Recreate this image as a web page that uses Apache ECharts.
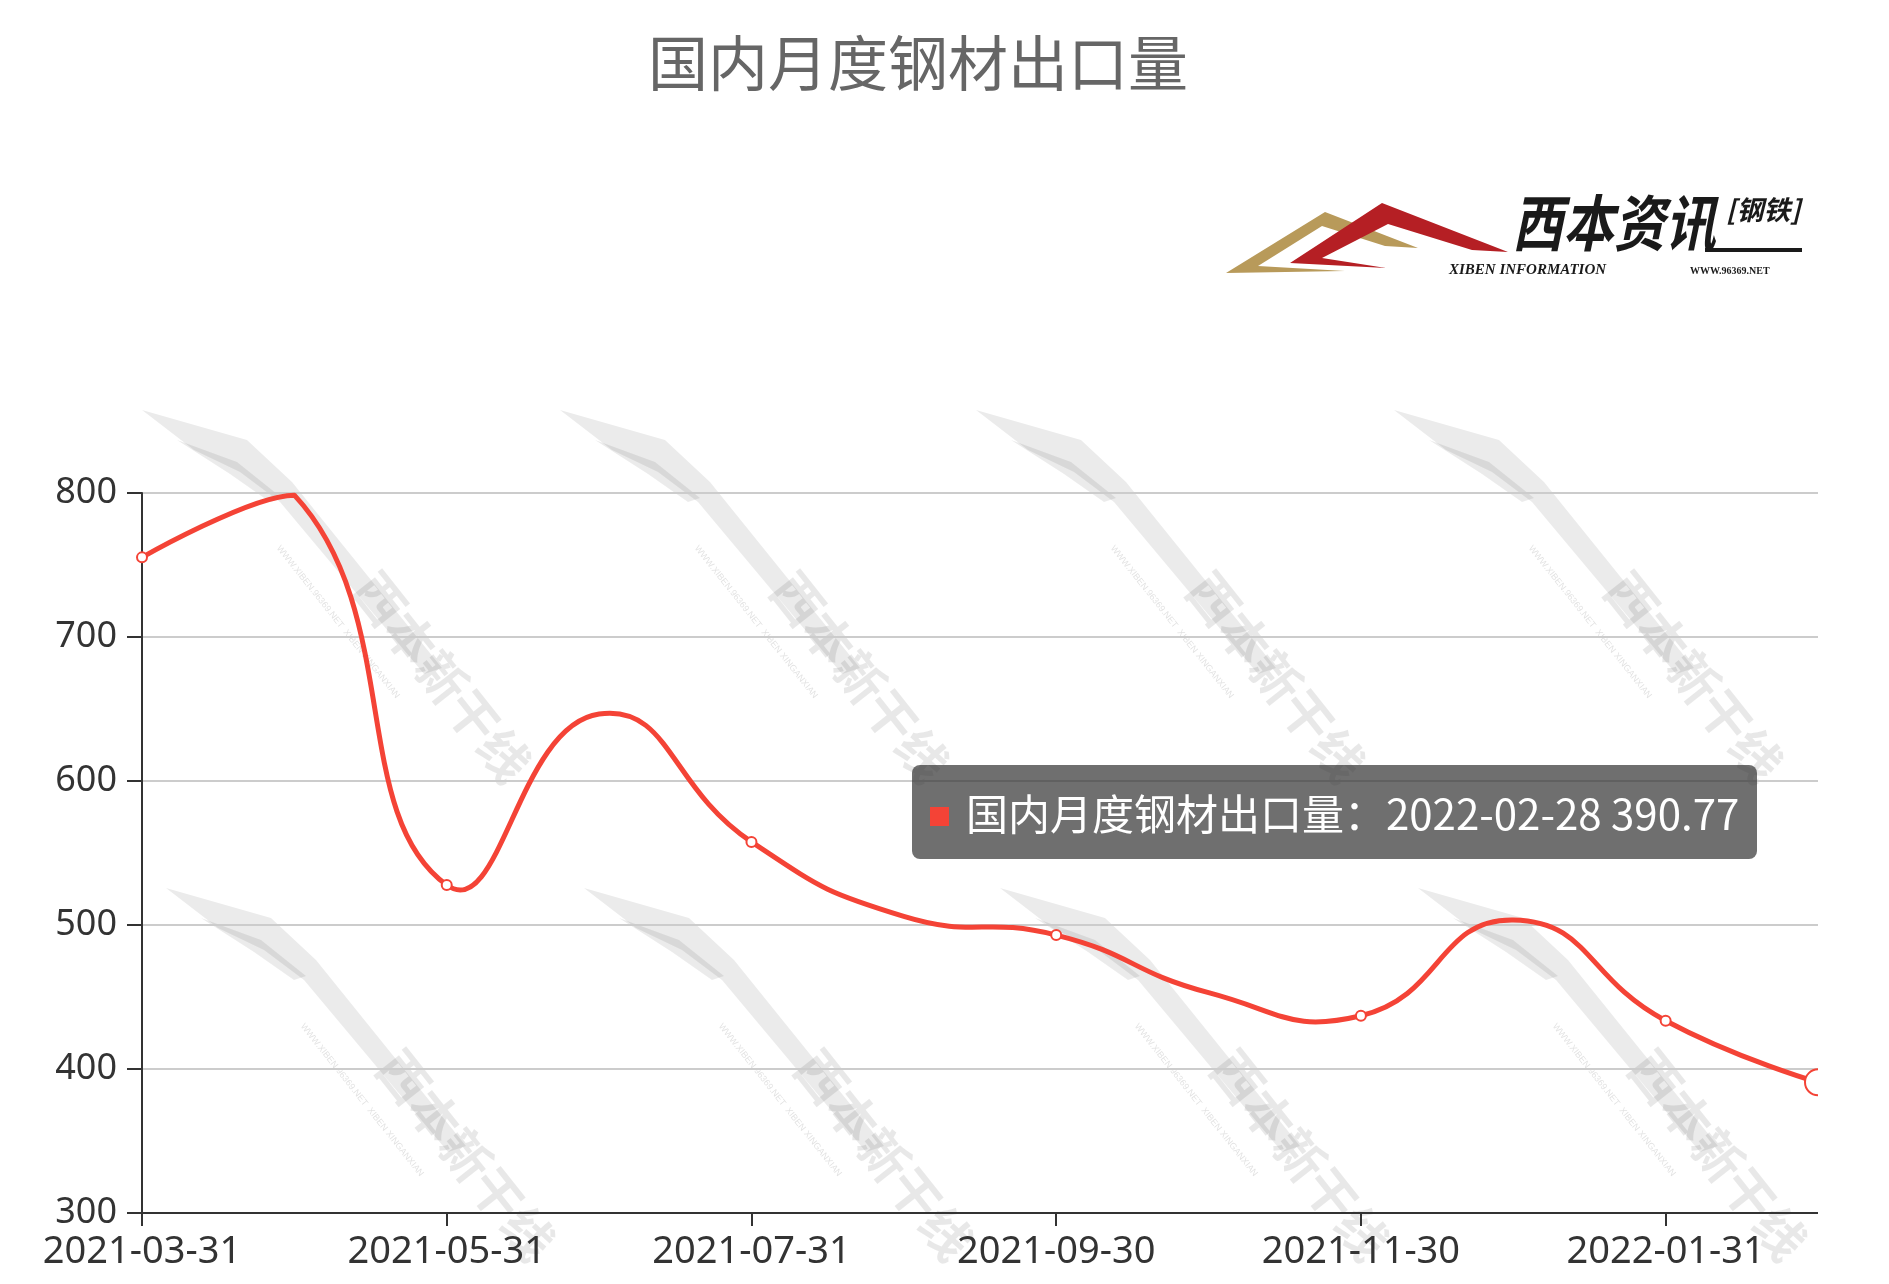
<!DOCTYPE html>
<html>
<head>
<meta charset="utf-8">
<script src="https://cdn.jsdelivr.net/npm/echarts@6/dist/echarts.min.js"></script>
<style>
html,body{margin:0;padding:0;background:#fff;overflow:hidden;}
#main{width:1818px;height:1284px;overflow:hidden;position:relative;}
</style>
</head>
<body>
<div id="main"></div>
<script>
var titleText = '国内月度钢材出口量';
var seriesName = '国内月度钢材出口量';
var dates = ['2021-03-31','2021-04-30','2021-05-31','2021-06-30','2021-07-31','2021-08-31','2021-09-30','2021-10-31','2021-11-30','2021-12-31','2022-01-31','2022-02-28'];
var values = [755.3, 798.5, 527.8, 646.5, 557.7, 506.0, 493.0, 453.0, 437.0, 503.5, 433.5, 390.77];
var yTicks = [300, 400, 500, 600, 700, 800];

var lineColor = '#f44336';

// smooth curve in the style of the classic (constrained) line smoothing
function smoothPath(pts, smooth) {
  var minX = Infinity, minY = Infinity, maxX = -Infinity, maxY = -Infinity;
  pts.forEach(function (p) {
    minX = Math.min(minX, p[0]); maxX = Math.max(maxX, p[0]);
    minY = Math.min(minY, p[1]); maxY = Math.max(maxY, p[1]);
  });
  function clamp(c) {
    return [Math.min(Math.max(c[0], minX), maxX), Math.min(Math.max(c[1], minY), maxY)];
  }
  function dist(a, b) { return Math.sqrt((a[0]-b[0])*(a[0]-b[0]) + (a[1]-b[1])*(a[1]-b[1])); }
  var d = 'M' + pts[0][0] + ' ' + pts[0][1];
  var cp0 = pts[0].slice();
  for (var i = 1; i < pts.length; i++) {
    var p = pts[i], prev = pts[i - 1], next = pts[i + 1];
    var cp1, ratio = 0.5, v = [0, 0];
    if (!next) {
      cp1 = p.slice();
    } else {
      v = [next[0] - prev[0], next[1] - prev[1]];
      var l0 = dist(p, prev), l1 = dist(p, next);
      ratio = l1 / (l0 + l1);
      cp1 = [p[0] - v[0] * smooth * (1 - ratio), p[1] - v[1] * smooth * (1 - ratio)];
    }
    cp0 = clamp(cp0); cp1 = clamp(cp1);
    d += ' C' + cp0[0] + ' ' + cp0[1] + ' ' + cp1[0] + ' ' + cp1[1] + ' ' + p[0] + ' ' + p[1];
    cp0 = [p[0] + v[0] * smooth * ratio, p[1] + v[1] * smooth * ratio];
  }
  return d;
}

// watermark decorations
var wmOrigins = [[142,410],[560,410],[976,410],[1394,410],[166,888],[584,888],[1000,888],[1418,888]];
function watermark(o) {
  var fill = 'rgba(0,0,0,0.08)';
  return {
    type: 'group', x: o[0], y: o[1], silent: true, z: -10,
    children: [
      { type: 'polygon', shape: { points: [[0,0],[105,30],[150,72],[300,258],[282,264],[138,92],[98,62],[52,40]] }, style: { fill: fill } },
      { type: 'polygon', shape: { points: [[35,30],[95,52],[140,88],[128,92],[88,64]] }, style: { fill: fill } },
      { type: 'text', x: 196, y: 212, rotation: -0.9, style: { text: 'WWW.XIBEN.96369.NET  XIBEN XINGANXIAN', fontSize: 9, fill: 'rgba(0,0,0,0.12)', align: 'center', verticalAlign: 'middle' } },
      { type: 'text', x: 300, y: 267, rotation: -0.9, style: { text: '西本新干线', fontSize: 50, fontWeight: 'bold', fontFamily: 'Noto Sans CJK SC', fill: 'rgba(0,0,0,0.09)', align: 'center', verticalAlign: 'middle' } }
    ]
  };
}

var graphics = wmOrigins.map(watermark);
// logo
graphics.push({
  type: 'group', silent: true, z: 5,
  children: [
    { type: 'polygon', shape: { points: [[1226,273],[1325,212],[1418,248],[1385,246],[1322,226],[1258,266],[1345,271]] }, style: { fill: '#b89a5a' } },
    { type: 'polygon', shape: { points: [[1290,263],[1382,203],[1508,252],[1472,250],[1388,224],[1322,258],[1386,268]] }, style: { fill: '#b51f24' } },
    { type: 'text', x: 1512, y: 192, scaleY: 1.2, style: { text: '西本资讯', fontSize: 51, fontWeight: 'bold', fontStyle: 'italic', fontFamily: 'Noto Sans CJK SC', fill: '#1a1a1a' } },
    { type: 'text', x: 1726, y: 196, style: { text: '[钢铁]', fontSize: 27, fontWeight: 'bold', fontStyle: 'italic', fontFamily: 'Noto Sans CJK SC', fill: '#1a1a1a' } },
    { type: 'text', x: 1449, y: 263, style: { text: 'XIBEN INFORMATION', fontSize: 15, fontWeight: 'bold', fontStyle: 'italic', fontFamily: 'Liberation Serif', fill: '#1a1a1a' } },
    { type: 'rect', shape: { x: 1705, y: 248, width: 97, height: 4 }, style: { fill: '#1a1a1a' } },
    { type: 'text', x: 1690, y: 266, style: { text: 'WWW.96369.NET', fontSize: 10, fontWeight: 'bold', fontFamily: 'Liberation Serif', fill: '#1a1a1a' } }
  ]
});

var curveData = values.map(function (v, i) { return [i, v]; });

var chart = echarts.init(document.getElementById('main'), null, { renderer: 'canvas' });
var option = {
  animation: false,
  backgroundColor: '#fff',
  title: {
    text: titleText,
    left: 643,
    top: 28,
    textStyle: { fontSize: 60, fontWeight: 'normal', color: '#666', fontFamily: 'Noto Sans CJK SC' }
  },
  graphic: graphics,
  grid: { left: 142, right: 0, top: 493, bottom: 71, containLabel: false },
  tooltip: {
    trigger: 'item',
    alwaysShowContent: true,
    transitionDuration: 0,
    backgroundColor: 'rgba(50,50,50,0.7)',
    borderWidth: 0,
    padding: [22, 18],
    textStyle: { color: '#fff', fontSize: 42, fontFamily: 'Noto Sans CJK SC' },
    extraCssText: 'border-radius:8px;box-shadow:none;line-height:50px;',
    position: function () { return [912, 765]; },
    formatter: function (p) {
      return '<span style="display:inline-block;width:19px;height:19px;background:' + lineColor + ';margin-right:17px;vertical-align:middle;position:relative;top:-2px"></span>' +
        p.seriesName + '：' + p.name + ' ' + p.value;
    }
  },
  xAxis: {
    type: 'category',
    data: dates,
    boundaryGap: false,
    axisLine: { lineStyle: { color: '#333', width: 2 } },
    axisTick: { show: true, interval: 1, length: 13, lineStyle: { color: '#333', width: 2 } },
    axisLabel: { interval: 1, fontSize: 38, color: '#333', margin: 20, fontFamily: 'Noto Sans' },
    splitLine: { show: false }
  },
  yAxis: {
    type: 'value',
    min: yTicks[0],
    max: yTicks[yTicks.length - 1],
    interval: 100,
    axisLine: { show: true, lineStyle: { color: '#333', width: 2 } },
    axisTick: { show: true, length: 15, lineStyle: { color: '#333', width: 2 } },
    axisLabel: { fontSize: 36, color: '#333', margin: 25, fontFamily: 'Noto Sans' },
    splitLine: { lineStyle: { color: '#ccc', width: 2 } }
  },
  series: [{
    name: seriesName + '-curve',
    type: 'custom',
    data: curveData,
    silent: true,
    tooltip: { show: false },
    z: 2,
    renderItem: function (params, api) {
      if (params.dataIndex !== 0) return null;
      var pts = curveData.map(function (d) { return api.coord(d); });
      return {
        type: 'path',
        shape: { pathData: smoothPath(pts, 0.5) },
        style: { fill: 'none', stroke: lineColor, lineWidth: 5, lineJoin: 'round', lineCap: 'round' }
      };
    }
  }, {
    name: seriesName,
    type: 'line',
    data: values,
    showAllSymbol: false,
    symbol: 'emptyCircle',
    symbolSize: 10,
    itemStyle: { color: lineColor, borderWidth: 2 },
    lineStyle: { color: lineColor, width: 0, opacity: 0 },
    emphasis: { scale: 2.6, lineStyle: { width: 0, opacity: 0 } },
    z: 3
  }]
};
chart.setOption(option);
chart.dispatchAction({ type: 'highlight', seriesIndex: 1, dataIndex: values.length - 1 });
chart.dispatchAction({ type: 'showTip', seriesIndex: 1, dataIndex: values.length - 1 });
</script>
</body>
</html>
